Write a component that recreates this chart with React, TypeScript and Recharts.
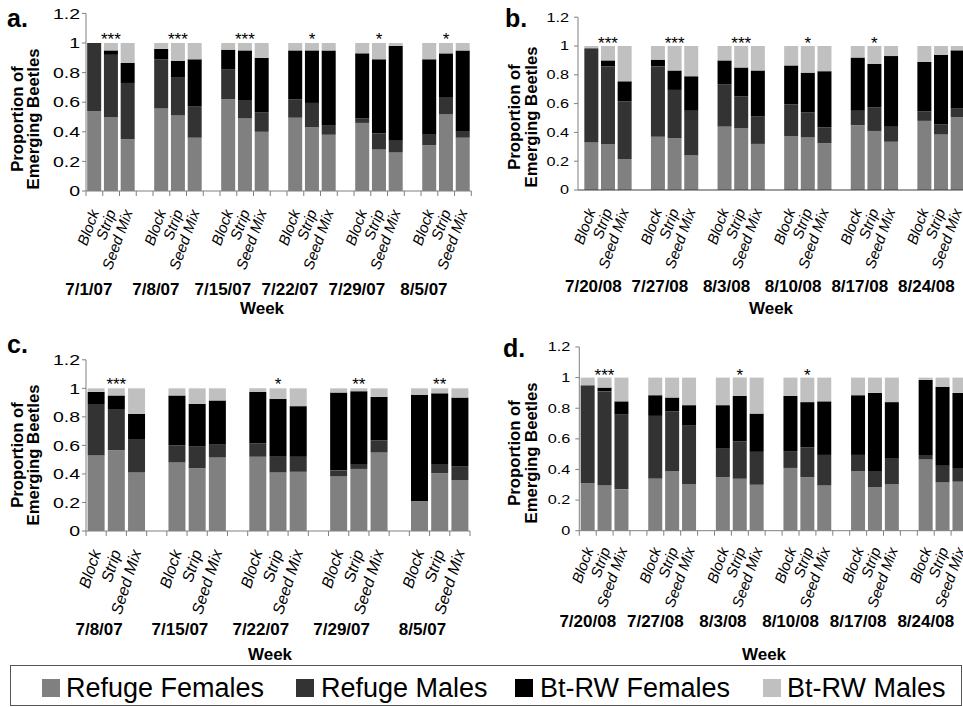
import React from "react";
import { BarChart, Bar, XAxis, YAxis, LabelList } from "recharts";

const FONT = "'Liberation Sans', Arial, Helvetica, sans-serif";
const TREATMENTS = ["Block", "Strip", "Seed Mix"];
const SERIES_NAMES = ["Refuge Females", "Refuge Males", "Bt-RW Females", "Bt-RW Males"];
const SERIES_KEYS = ["rf", "rm", "bf", "bm"];
const SERIES_COLORS = ["#808080", "#333333", "#000000", "#c0c0c0"];
const Y_TICKS = [0, 0.2, 0.4, 0.6, 0.8, 1, 1.2];

// Panel a
const weeksA = ["7/1/07", "7/8/07", "7/15/07", "7/22/07", "7/29/07", "8/5/07"];
const refugeFemalesA = [0.54, 0.5, 0.35, 0.56, 0.51, 0.36, 0.62, 0.49, 0.4, 0.495, 0.43, 0.38, 0.46, 0.28, 0.26, 0.31, 0.52, 0.36];
const refugeMalesA = [0.46, 0.42, 0.38, 0.33, 0.26, 0.21, 0.2, 0.125, 0.13, 0.125, 0.165, 0.065, 0.03, 0.11, 0.08, 0.07, 0.11, 0.04];
const btFemalesA = [0, 0.03, 0.135, 0.07, 0.11, 0.32, 0.135, 0.335, 0.37, 0.33, 0.355, 0.505, 0.44, 0.5, 0.64, 0.51, 0.3, 0.55];
const btMalesA = [0, 0.05, 0.135, 0.04, 0.12, 0.11, 0.045, 0.05, 0.1, 0.05, 0.05, 0.05, 0.07, 0.11, 0.02, 0.11, 0.07, 0.05];
const sigA = ["***", "***", "***", "*", "*", "*"];

// Panel b
const weeksB = ["7/20/08", "7/27/08", "8/3/08", "8/10/08", "8/17/08", "8/24/08"];
const refugeFemalesB = [0.33, 0.32, 0.215, 0.37, 0.36, 0.24, 0.44, 0.43, 0.32, 0.375, 0.365, 0.325, 0.45, 0.41, 0.335, 0.48, 0.385, 0.505];
const refugeMalesB = [0.655, 0.54, 0.4, 0.49, 0.335, 0.31, 0.295, 0.22, 0.19, 0.22, 0.175, 0.11, 0.1, 0.165, 0.105, 0.065, 0.07, 0.06];
const btFemalesB = [0, 0.04, 0.14, 0.045, 0.135, 0.24, 0.165, 0.2, 0.32, 0.27, 0.275, 0.39, 0.37, 0.3, 0.49, 0.345, 0.485, 0.405];
const btMalesB = [0.015, 0.1, 0.245, 0.095, 0.17, 0.21, 0.1, 0.15, 0.17, 0.135, 0.185, 0.175, 0.08, 0.125, 0.07, 0.11, 0.06, 0.03];
const sigB = ["***", "***", "***", "*", "*", ""];

// Panel c
const weeksC = ["7/8/07", "7/15/07", "7/22/07", "7/29/07", "8/5/07"];
const refugeFemalesC = [0.53, 0.565, 0.41, 0.48, 0.44, 0.515, 0.52, 0.41, 0.415, 0.385, 0.435, 0.55, 0.21, 0.405, 0.355];
const refugeMalesC = [0.36, 0.285, 0.235, 0.12, 0.155, 0.09, 0.095, 0.11, 0.105, 0.04, 0.035, 0.085, 0, 0.065, 0.1];
const btFemalesC = [0.085, 0.1, 0.175, 0.35, 0.295, 0.31, 0.36, 0.405, 0.355, 0.545, 0.51, 0.305, 0.745, 0.495, 0.48];
const btMalesC = [0.025, 0.05, 0.18, 0.05, 0.11, 0.085, 0.025, 0.075, 0.125, 0.03, 0.02, 0.06, 0.045, 0.035, 0.065];
const sigC = ["***", "", "*", "**", "**"];

// Panel d
const weeksD = ["7/20/08", "7/27/08", "8/3/08", "8/10/08", "8/17/08", "8/24/08"];
const refugeFemalesD = [0.31, 0.295, 0.27, 0.34, 0.39, 0.305, 0.35, 0.34, 0.3, 0.41, 0.35, 0.295, 0.39, 0.285, 0.305, 0.465, 0.315, 0.32];
const refugeMalesD = [0.64, 0.615, 0.49, 0.41, 0.39, 0.385, 0.19, 0.245, 0.215, 0.11, 0.195, 0.2, 0.105, 0.1, 0.165, 0.03, 0.11, 0.085];
const btFemalesD = [0, 0.025, 0.085, 0.135, 0.09, 0.13, 0.28, 0.295, 0.25, 0.36, 0.295, 0.35, 0.39, 0.515, 0.37, 0.49, 0.515, 0.495];
const btMalesD = [0.05, 0.065, 0.155, 0.115, 0.13, 0.18, 0.18, 0.12, 0.235, 0.12, 0.16, 0.155, 0.115, 0.1, 0.16, 0.015, 0.06, 0.1];
const sigD = ["***", "", "*", "*", "", ""];

function buildRows(weeks: string[], rf: number[], rm: number[], bf: number[], bm: number[], sig: string[]) {
  const rows: any[] = [];
  weeks.forEach((w, g) => {
    if (g > 0) rows.push({ cat: "", week: "", sig: "" });
    TREATMENTS.forEach((t, k) => {
      const i = g * 3 + k;
      rows.push({ cat: t, week: k === 0 ? w : "", rf: rf[i], rm: rm[i], bf: bf[i], bm: bm[i], sig: k === 1 ? sig[g] : "" });
    });
  });
  return rows;
}

const panels = [
  {
    id: "a", rows: buildRows(weeksA, refugeFemalesA, refugeMalesA, btFemalesA, btMalesA, sigA),
    left: 0, top: 0, width: 480, height: 330, margin: { top: 13.4, right: 8.7, left: 26, bottom: 0 },
    yWidth: 60, xHeight: 139, padLeft: 0, gap: "7%", yFont: 15, yScale: 1.3, yTickMargin: 2,
    xTicks: true, xAxisColor: "#808080", lFont: 15, angle: -70, ldx: 5, ldy: 21, ddx: -5.5, ddy: 104, sigDy: 1.5,
  },
  {
    id: "b", rows: buildRows(weeksB, refugeFemalesB, refugeMalesB, btFemalesB, btMalesB, sigB),
    left: 480, top: 0, width: 490, height: 330, margin: { top: 17.2, right: 4, left: 38, bottom: 0 },
    yWidth: 60, xHeight: 140, padLeft: 5, gap: "8%", yFont: 12.5, yScale: 1.3, yTickMargin: 5,
    xTicks: false, xAxisColor: "#404040", lFont: 15, angle: -70, ldx: 4.5, ldy: 21, ddx: 2, ddy: 102, sigDy: 3,
  },
  {
    id: "c", rows: buildRows(weeksC, refugeFemalesC, refugeMalesC, btFemalesC, btMalesC, sigC),
    left: 0, top: 330, width: 480, height: 340, margin: { top: 29.8, right: 10, left: 26, bottom: 0 },
    yWidth: 60, xHeight: 139, padLeft: 0, gap: "8%", yFont: 15, yScale: 1.3, yTickMargin: 2,
    xTicks: true, xAxisColor: "#808080", lFont: 16, angle: -72, ldx: 5, ldy: 21, ddx: 3, ddy: 104, sigDy: 2,
  },
  {
    id: "d", rows: buildRows(weeksD, refugeFemalesD, refugeMalesD, btFemalesD, btMalesD, sigD),
    left: 480, top: 330, width: 490, height: 340, margin: { top: 17, right: 2, left: 39.3, bottom: 0 },
    yWidth: 60, xHeight: 139.3, padLeft: 0, gap: "8%", yFont: 12.5, yScale: 1.3, yTickMargin: 5,
    xTicks: true, xAxisColor: "#808080", lFont: 15, angle: -70, ldx: 6, ldy: 19, ddx: 0, ddy: 96, sigDy: 3,
  },
];

function Panel({ cfg }: { cfg: any }) {
  const rows = cfg.rows;
  const plotW = cfg.width - cfg.margin.left - cfg.yWidth - cfg.margin.right;
  const band = (plotW - cfg.padLeft) / rows.length;

  const XTick = (p: any) => {
    const { x, y, index } = p;
    const row = rows[index];
    if (!row) return null;
    const parts: any[] = [];
    if (cfg.xTicks) {
      parts.push(<line key="t1" x1={x - band / 2} x2={x - band / 2} y1={y} y2={y + 5} stroke="#808080" />);
      if (index === rows.length - 1)
        parts.push(<line key="t2" x1={x + band / 2} x2={x + band / 2} y1={y} y2={y + 5} stroke="#808080" />);
    }
    if (row.cat)
      parts.push(
        <text key="c" transform={`translate(${x + cfg.ldx},${y + cfg.ldy}) rotate(${cfg.angle})`} textAnchor="end"
          fontStyle="italic" fontSize={cfg.lFont} fontFamily={FONT} fill="#000">{row.cat}</text>
      );
    if (row.week)
      parts.push(
        <text key="w" x={x + cfg.ddx} y={y + cfg.ddy} textAnchor="middle" fontWeight="bold" fontSize={17}
          fontFamily={FONT} fill="#000">{row.week}</text>
      );
    return <g>{parts}</g>;
  };

  const YTick = (p: any) => {
    const { x, y, payload } = p;
    return (
      <text transform={`translate(${x},${y}) scale(${cfg.yScale},1)`} textAnchor="end" dominantBaseline="central"
        fontSize={cfg.yFont} fontFamily={FONT} fill="#000">{String(payload.value)}</text>
    );
  };

  const Sig = (p: any) => {
    const { x, y, width, value } = p;
    if (!value) return null;
    return (
      <text x={Number(x) + Number(width) / 2} y={Number(y) + cfg.sigDy} textAnchor="middle" fontSize={17}
        fontFamily={FONT} fill="#000">{value}</text>
    );
  };

  return (
    <div style={{ position: "absolute", left: cfg.left, top: cfg.top }}>
      <BarChart width={cfg.width} height={cfg.height} data={rows} margin={cfg.margin} barCategoryGap={cfg.gap}>
        <XAxis dataKey="cat" interval={0} tickSize={0} tickMargin={0} height={cfg.xHeight}
          padding={{ left: cfg.padLeft, right: 0 }} axisLine={{ stroke: cfg.xAxisColor }} tickLine={false} tick={XTick} />
        <YAxis type="number" domain={[0, 1.2]} ticks={Y_TICKS} interval={0} width={cfg.yWidth} tickSize={4}
          tickMargin={cfg.yTickMargin} axisLine={{ stroke: "#808080" }} tickLine={{ stroke: "#808080" }} tick={YTick} />
        {SERIES_KEYS.map((k, i) => (
          <Bar key={k} dataKey={k} name={SERIES_NAMES[i]} stackId="s" fill={SERIES_COLORS[i]} isAnimationActive={false}>
            {i === 3 ? <LabelList dataKey="sig" content={Sig} /> : null}
          </Bar>
        ))}
      </BarChart>
    </div>
  );
}

const titles = [
  { letter: "a.", lx: 7, ly: 27, t1x: 23, t2x: 39, ty: 119, wx: 262, wy: 314 },
  { letter: "b.", lx: 505, ly: 27, t1x: 520, t2x: 537, ty: 117, wx: 771, wy: 314 },
  { letter: "c.", lx: 7, ly: 353, t1x: 23, t2x: 39, ty: 455, wx: 270, wy: 660 },
  { letter: "d.", lx: 503, ly: 357, t1x: 520, t2x: 537, ty: 453, wx: 764, wy: 660 },
];

const legendPos = [
  { sx: 42, tx: 66 },
  { sx: 296, tx: 321 },
  { sx: 515, tx: 540 },
  { sx: 763, tx: 787 },
];

export default function App() {
  return (
    <div style={{ position: "fixed", left: 0, top: 0, width: 963, height: 707, overflow: "hidden", background: "#fff" }}>
      {panels.map((p) => (
        <Panel key={p.id} cfg={p} />
      ))}
      <svg width={963} height={707} style={{ position: "absolute", left: 0, top: 0, pointerEvents: "none" }}>
        {titles.map((t) => (
          <g key={t.letter} fontFamily={FONT} fill="#000">
            <text x={t.lx} y={t.ly} fontSize={25} fontWeight="bold">{t.letter}</text>
            <text transform={`translate(${t.t1x},${t.ty}) rotate(-90)`} textAnchor="middle" fontSize={16.7} fontWeight="bold">Proportion of</text>
            <text transform={`translate(${t.t2x},${t.ty}) rotate(-90)`} textAnchor="middle" fontSize={16.7} fontWeight="bold">Emerging Beetles</text>
            <text x={t.wx} y={t.wy} textAnchor="middle" fontSize={17} fontWeight="bold">Week</text>
          </g>
        ))}
        <rect x={10.5} y={665.5} width={951} height={40} fill="none" stroke="#555" strokeWidth={1} />
        {SERIES_NAMES.map((n, i) => (
          <g key={n}>
            <rect x={legendPos[i].sx} y={679} width={18} height={18} fill={SERIES_COLORS[i]} />
            <text x={legendPos[i].tx} y={697} fontSize={27} fontFamily={FONT} fill="#000">{n}</text>
          </g>
        ))}
      </svg>
    </div>
  );
}
